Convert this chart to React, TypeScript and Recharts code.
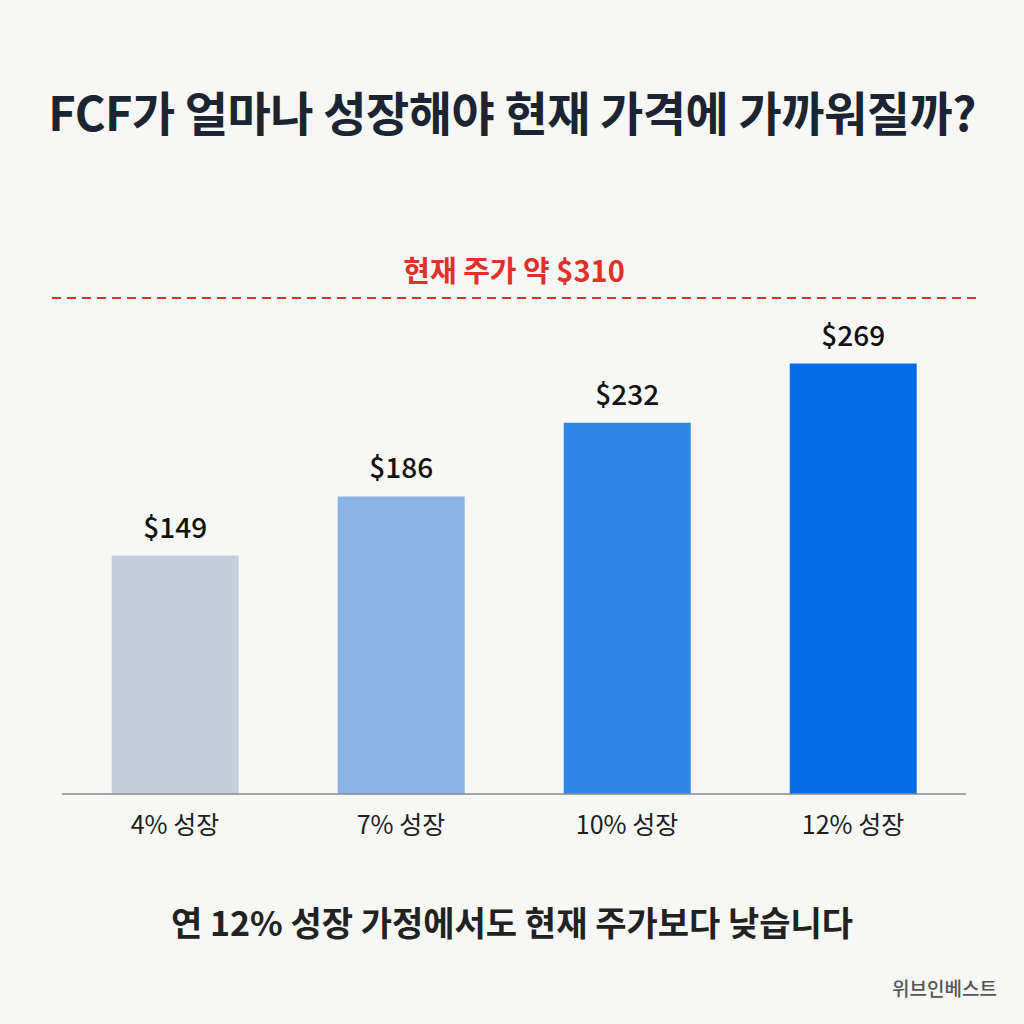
import React from "react";
import { Bar, BarChart, Cell, LabelList, ReferenceLine, XAxis, YAxis } from "recharts";

const categories = ["4% 성장", "7% 성장", "10% 성장", "12% 성장"];
const fairValues = [149, 186, 232, 269];
const currentPrice = 310;
const barColors = ["#c5cedd", "#8ab4e6", "#2f86e6", "#066ce6"];

const data = categories.map((name, i) => ({ name, value: fairValues[i] }));

const FONT = '"Noto Sans CJK KR", "Noto Sans", sans-serif';

// dashed price line runs a little past the plot on both sides
function PriceLine(props: any) {
  const { x1, x2, y1 } = props;
  return (
    <line
      x1={x1 - 10}
      x2={x2 + 10}
      y1={y1}
      y2={y1}
      stroke="#e0302a"
      strokeWidth={2}
      strokeDasharray="9 6"
    />
  );
}

export default function App() {
  return (
    <div
      style={{
        position: "absolute",
        left: 0,
        top: 0,
        width: 1024,
        height: 1024,
        background: "#f7f7f5",
        fontFamily: FONT,
        overflow: "hidden",
      }}
    >
      <div
        style={{
          position: "absolute",
          top: 76,
          left: 0,
          width: 1024,
          textAlign: "center",
          fontSize: 47,
          fontWeight: 700,
          color: "#1b2430",
          letterSpacing: -0.5,
        }}
      >
        FCF가 얼마나 성장해야 현재 가격에 가까워질까?
      </div>

      <div style={{ position: "absolute", left: 0, top: 0 }}>
        <BarChart
          width={1024}
          height={1024}
          data={data}
          margin={{ top: 218, right: 58, bottom: 190, left: 62 }}
          barCategoryGap="22%"
        >
          <YAxis hide domain={[0, 360]} />
          <XAxis
            dataKey="name"
            height={40}
            tickLine={false}
            tickMargin={16}
            axisLine={{ stroke: "#8a8a8a", strokeWidth: 1.5 }}
            tick={{ fontSize: 25, fill: "#1e1e1e", fontFamily: FONT }}
          />
          <ReferenceLine
            y={currentPrice}
            shape={PriceLine}
            label={{
              value: `현재 주가 약 $${currentPrice}`,
              position: "top",
              offset: 16,
              fill: "#e0302a",
              fontSize: 29,
              fontWeight: 700,
              fontFamily: FONT,
            }}
          />
          <Bar dataKey="value" isAnimationActive={false}>
            {data.map((d, i) => (
              <Cell key={d.name} fill={barColors[i]} />
            ))}
            <LabelList
              dataKey="value"
              position="top"
              offset={18}
              formatter={(v: any) => `$${v}`}
              style={{ fontSize: 28, fontWeight: 500, fill: "#111", fontFamily: FONT }}
            />
          </Bar>
        </BarChart>
      </div>

      <div
        style={{
          position: "absolute",
          top: 897,
          left: 0,
          width: 1024,
          textAlign: "center",
          fontSize: 34,
          fontWeight: 700,
          color: "#222",
        }}
      >
        연 12% 성장 가정에서도 현재 주가보다 낮습니다
      </div>

      <div
        style={{
          position: "absolute",
          top: 974,
          right: 27,
          fontSize: 19,
          fontWeight: 500,
          color: "#555",
        }}
      >
        위브인베스트
      </div>
    </div>
  );
}
